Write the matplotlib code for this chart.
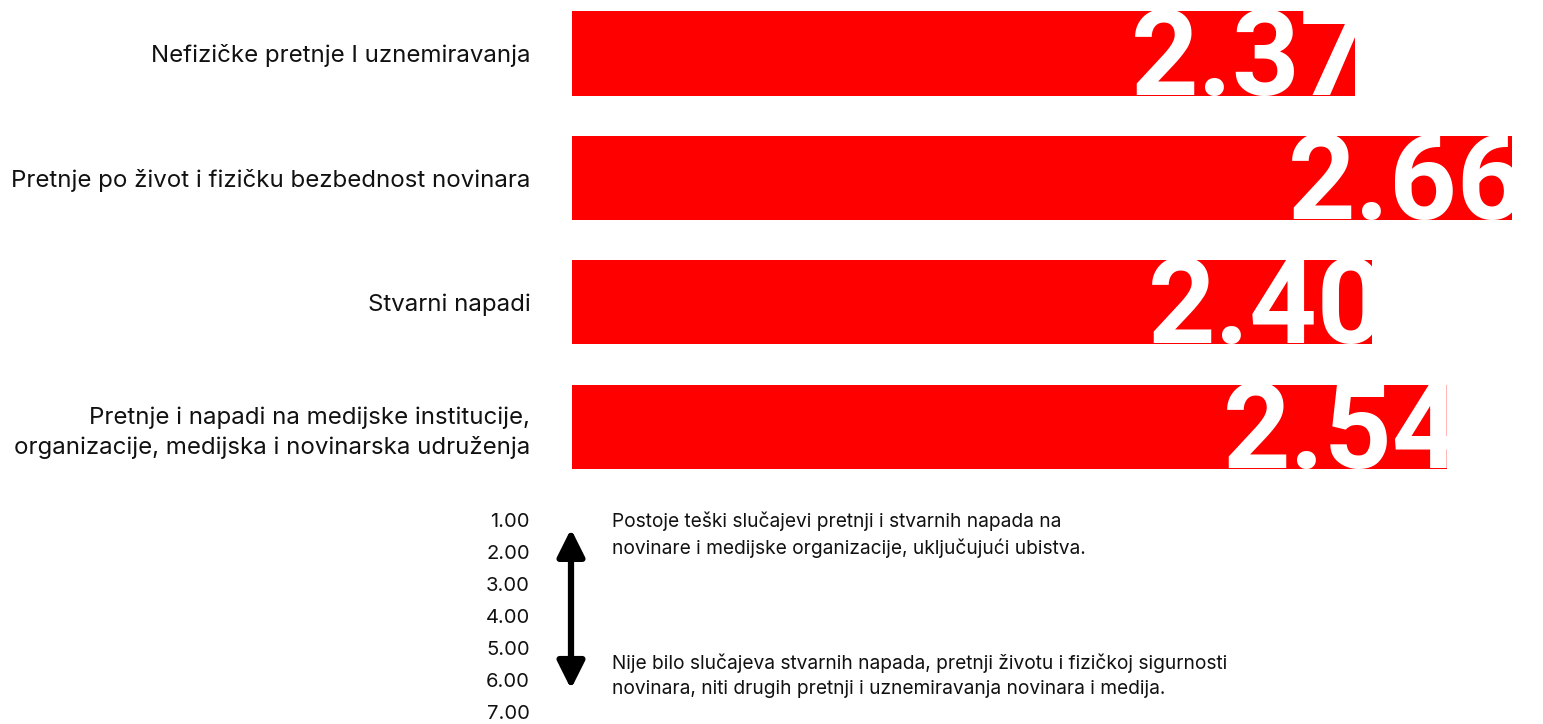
import matplotlib.pyplot as plt
from matplotlib.patches import FancyArrowPatch

plt.rcParams["font.family"] = ["Inter", "DejaVu Sans"]

categories = [
    "Nefizičke pretnje I uznemiravanja",
    "Pretnje po život i fizičku bezbednost novinara",
    "Stvarni napadi",
    "Pretnje i napadi na medijske institucije,\norganizacije, medijska i novinarska udruženja",
]
scores = [2.37, 2.66, 2.40, 2.54]
value_labels = ["2.37", "2.66", "2.40", "2.54"]

scale_ticks = [1, 2, 3, 4, 5, 6, 7]
scale_labels = ["1.00", "2.00", "3.00", "4.00", "5.00", "6.00", "7.00"]
scale_top_text = "Postoje teški slučajevi pretnji i stvarnih napada na\nnovinare i medijske organizacije, uključujući ubistva."
scale_bottom_text = ("Nije bilo slučajeva stvarnih napada, pretnji životu i fizičkoj sigurnosti\n"
                     "novinara, niti drugih pretnji i uznemiravanja novinara i medija.")

W, H = 1543, 724
RED = "#ff0000"

fig = plt.figure(figsize=(W / 100, H / 100), dpi=100)

# main bar chart
ax = fig.add_axes([572 / W, 1 - 480 / H, 1 - 572 / W, (480 - 5) / H])
bar_h = 0.676
y = list(range(len(categories)))
bars = ax.barh(y, scores, height=bar_h, color=RED)
ax.set_xlim(0.919, 2.7176)
ax.set_ylim(3.43, -0.39)
ax.set_yticks(y)
ax.set_yticklabels(categories, fontsize=17.3, color="#111111")
for lbl in ax.get_yticklabels():
    lbl.set_linespacing(1.42)
ax.tick_params(axis="y", length=0, pad=30)
ax.tick_params(axis="x", bottom=False, labelbottom=False)
for side in ax.spines.values():
    side.set_visible(False)

for rect, val, txt in zip(bars, scores, value_labels):
    ann = ax.annotate(txt, xy=(val, rect.get_y() + rect.get_height()),
                      xytext=(-224, 1), textcoords="offset pixels",
                      ha="left", va="baseline", color="white",
                      fontsize=85, fontweight="bold", family="Roboto")
    ann.set_clip_path(rect)

# scale legend below
leg = fig.add_axes([560 / W, 0, 22 / W, (724 - 504) / H])
leg.set_ylim(7.375, 0.5)
leg.set_xlim(0, 1)
leg.set_yticks(scale_ticks)
leg.set_yticklabels(scale_labels, fontsize=14.5, color="#111111")
leg.tick_params(axis="y", length=0, pad=21.6)
leg.tick_params(axis="x", bottom=False, labelbottom=False)
for side in leg.spines.values():
    side.set_visible(False)
leg.patch.set_alpha(0)

arrow = FancyArrowPatch((0.5, 1.28), (0.5, 6.28), arrowstyle="<|-|>,head_length=1.5,head_width=0.75",
                        mutation_scale=11, color="black", lw=4.5,
                        shrinkA=0, shrinkB=0, clip_on=False)
leg.add_patch(arrow)

fig.text(612 / W, 1 - 535 / H, scale_top_text, fontsize=13.8, color="#111111",
         ha="left", va="center", linespacing=1.5)
fig.text(612 / W, 1 - 676 / H, scale_bottom_text, fontsize=13.8, color="#111111",
         ha="left", va="center", linespacing=1.5)

fig.savefig("out.png", dpi=100, facecolor="white")
